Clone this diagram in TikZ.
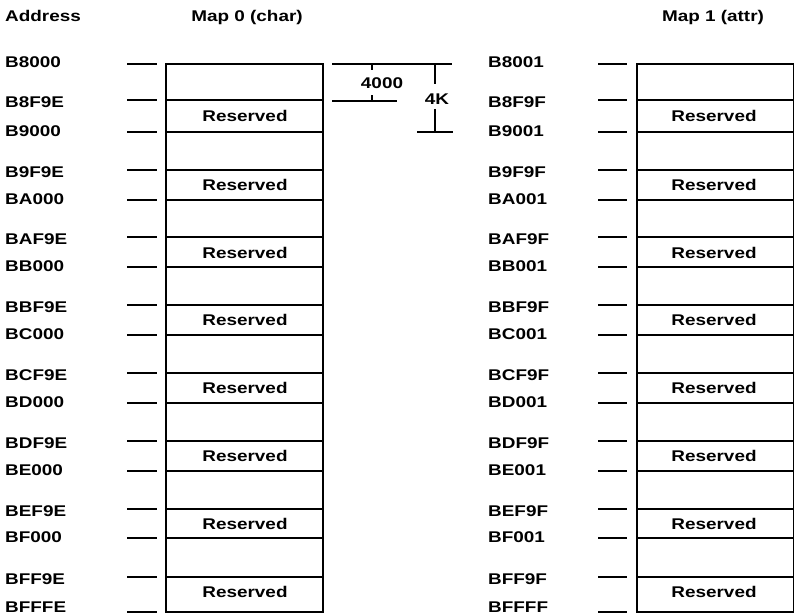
\documentclass[tikz,border=0pt]{standalone}
\usepackage{fontspec}
\setmainfont{Liberation Sans}[FakeStretch=1.22]
\begin{document}
\begin{tikzpicture}[x=1pt,y=-1pt,
  lbl/.style={anchor=base west,inner sep=0pt,font=\fontsize{15.5}{18}\selectfont\bfseries},
  ctr/.style={anchor=base,inner sep=0pt,font=\fontsize{15.5}{18}\selectfont\bfseries},
  boxline/.style={line width=2.4pt},
  tick/.style={line width=1.5pt},
  dim/.style={line width=1.3pt}]
\useasboundingbox (0,0) rectangle (794,615);
% titles
\node[lbl] (addr) at (5,21.5) {Address};
\node[ctr] (map0) at (247,21.5) {Map 0 (char)};
\node[ctr] (map1) at (713,21.5) {Map 1 (attr)};
% boxes
\draw[boxline] (166,64) rectangle (323,612);
\draw[boxline] (637,64) rectangle (794.5,612);
% block lines, ticks, labels
\foreach \T/\R/\la/\lb/\ra/\rb in {
  64/100/B8000/B8F9E/B8001/B8F9F,
  132/170/B9000/B9F9E/B9001/B9F9F,
  200/237/BA000/BAF9E/BA001/BAF9F,
  267/305/BB000/BBF9E/BB001/BBF9F,
  335/373/BC000/BCF9E/BC001/BCF9F,
  403/441/BD000/BDF9E/BD001/BDF9F,
  471/509/BE000/BEF9E/BE001/BEF9F,
  538/577/BF000/BFF9E/BF001/BFF9F}{
  \draw[boxline] (166,\T) -- (323,\T);
  \draw[boxline] (166,\R) -- (323,\R);
  \draw[boxline] (637,\T) -- (794.5,\T);
  \draw[boxline] (637,\R) -- (794.5,\R);
  \draw[tick] (127,\T) -- (157,\T);
  \draw[tick] (127,\R) -- (157,\R);
  \draw[tick] (598,\T) -- (627,\T);
  \draw[tick] (598,\R) -- (627,\R);
  \pgfmathsetmacro{\mid}{(\R+(\T+68))/2+5.5}
  \node[ctr] (res0-\T) at (245,\mid) {Reserved};
  \node[ctr] (res1-\T) at (714,\mid) {Reserved};
  \pgfmathsetmacro{\ya}{\T-1.5+5.5}
  \pgfmathsetmacro{\yb}{\R+2+5.5}
  \node[lbl] (l-\la) at (5,\ya) {\la};
  \node[lbl] (l-\lb) at (5,\yb) {\lb};
  \node[lbl] (r-\ra) at (488,\ya) {\ra};
  \node[lbl] (r-\rb) at (488,\yb) {\rb};
}
\draw[tick] (127,612) -- (157,612);
\draw[tick] (598,612) -- (627,612);
\node[lbl] (l-BFFFE) at (5,612) {BFFFE};
\node[lbl] (r-BFFFF) at (488,612) {BFFFF};
% dimensions
\coordinate (d1a) at (332,64); \coordinate (d1b) at (452,64);
\coordinate (d2a) at (332,101); \coordinate (d2b) at (397,101);
\coordinate (d3a) at (417,132); \coordinate (d3b) at (453,132);
\coordinate (k1a) at (435,64); \coordinate (k1b) at (435,84);
\coordinate (k2a) at (435,109); \coordinate (k2b) at (435,132);
\coordinate (t1a) at (372,64); \coordinate (t1b) at (372,70);
\coordinate (t2a) at (372,101); \coordinate (t2b) at (372,95);
\draw[dim] (d1a) -- (d1b);
\draw[dim] (d2a) -- (d2b);
\draw[dim] (d3a) -- (d3b);
\draw[dim] (t1a) -- (t1b);
\draw[dim] (t2a) -- (t2b);
\draw[dim] (k1a) -- (k1b);
\draw[dim] (k2a) -- (k2b);
\node[ctr] (n4000) at (382,88.5) {4000};
\node[ctr] (n4k) at (437,104) {4K};
\end{tikzpicture}
\end{document}
